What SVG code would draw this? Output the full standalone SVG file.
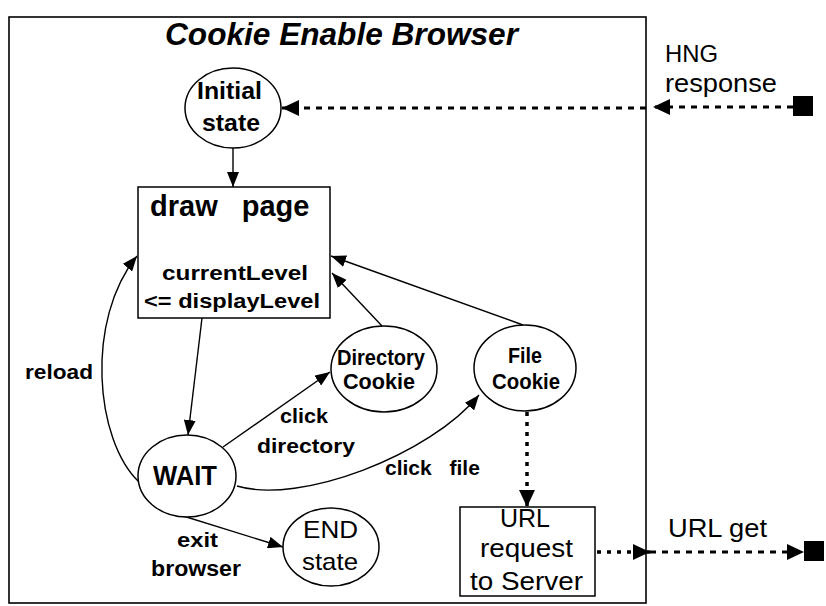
<svg xmlns="http://www.w3.org/2000/svg" width="826" height="606" viewBox="0 0 826 606">
  <style>
    .frame { fill: none; stroke: #000; stroke-width: 1.6; }
    .node { fill: #fff; stroke: #000; stroke-width: 1.5; }
    .edge { fill: none; stroke: #000; stroke-width: 1.4; }
    .dash { fill: none; stroke: #000; stroke-width: 3; stroke-dasharray: 6 6; }
    .dot { fill: none; stroke: #000; stroke-width: 3.5; stroke-dasharray: 4 6; }
    text { font-family: "Liberation Sans", Arial, sans-serif; fill: #000; }
    .b { font-weight: bold; }
    .n { font-weight: normal; }
    .title { font-size: 31px; font-weight: bold; font-style: italic; }
  </style>
  <defs>
    <marker id="arr" markerUnits="userSpaceOnUse" markerWidth="16" markerHeight="12" refX="15" refY="6" orient="auto">
      <path d="M0,0 L15,6 L0,12 z" fill="#000"/>
    </marker>
    <marker id="arrBig" markerUnits="userSpaceOnUse" markerWidth="18" markerHeight="16" refX="17" refY="8" orient="auto">
      <path d="M0,0 L17,8 L0,16 z" fill="#000"/>
    </marker>
  </defs>

  <rect width="826" height="606" fill="#fff"/>

  <!-- browser boundary -->
  <g id="browser">
    <rect class="frame" x="9" y="17" width="637" height="586"/>
    <text class="title" x="165" y="45" textLength="353" lengthAdjust="spacingAndGlyphs">Cookie Enable Browser</text>
  </g>

  <!-- connectors -->
  <g id="connectors">
    <path class="edge" d="M233,148 L233,187" marker-end="url(#arr)"/>
    <path class="edge" d="M202,318 L188,435" marker-end="url(#arr)"/>
    <path class="edge" d="M139,482 C95,440 85,320 137,256" marker-end="url(#arr)"/>
    <path class="edge" d="M223,447 L330,372" marker-end="url(#arr)"/>
    <path class="edge" d="M237,486 C300,505 430,455 479,395" marker-end="url(#arr)"/>
    <path class="edge" d="M180,515 L283,547" marker-end="url(#arr)"/>
    <path class="edge" d="M382,326 L332,273" marker-end="url(#arr)"/>
    <path class="edge" d="M523,325 L331,256" marker-end="url(#arr)"/>

    <path class="dash" d="M793,107 L653,107" marker-end="url(#arrBig)"/>
    <path class="dash" d="M646,108 L282,108" marker-end="url(#arrBig)"/>
    <path class="dot" d="M527,412 L527,507" marker-end="url(#arrBig)"/>
    <path class="dot" d="M597,552 L650,552" marker-end="url(#arrBig)"/>
    <path class="dash" d="M650,552 L804,552" marker-end="url(#arrBig)"/>
  </g>

  <!-- external endpoints -->
  <g id="hng">
    <rect x="793" y="96" width="20" height="20" fill="#000"/>
    <text class="n" x="665" y="62" font-size="24" textLength="53" lengthAdjust="spacingAndGlyphs">HNG</text>
    <text class="n" x="665" y="92" font-size="25" textLength="112" lengthAdjust="spacingAndGlyphs">response</text>
  </g>
  <g id="server">
    <rect x="804" y="541" width="20" height="20" fill="#000"/>
    <text class="n" x="668" y="537" font-size="25" textLength="99" lengthAdjust="spacingAndGlyphs">URL get</text>
  </g>

  <!-- states -->
  <g id="initial-state">
    <ellipse class="node" cx="233" cy="108" rx="48" ry="40"/>
    <text class="b" x="229.5" y="99" font-size="24" text-anchor="middle" textLength="65" lengthAdjust="spacingAndGlyphs">Initial</text>
    <text class="b" x="231" y="131" font-size="24" text-anchor="middle" textLength="58" lengthAdjust="spacingAndGlyphs">state</text>
  </g>

  <g id="draw-page">
    <rect class="node" x="138" y="187" width="192" height="131"/>
    <text class="b" x="150" y="216" font-size="29" word-spacing="16">draw page</text>
    <text class="b" x="235" y="280" font-size="20" text-anchor="middle" textLength="146" lengthAdjust="spacingAndGlyphs">currentLevel</text>
    <text class="b" x="232" y="308" font-size="20" text-anchor="middle" textLength="176" lengthAdjust="spacingAndGlyphs">&lt;= displayLevel</text>
  </g>

  <g id="directory-cookie">
    <ellipse class="node" cx="384" cy="369" rx="53" ry="43"/>
    <text class="b" x="381" y="365" font-size="22" text-anchor="middle" textLength="88" lengthAdjust="spacingAndGlyphs">Directory</text>
    <text class="b" x="379" y="389" font-size="22" text-anchor="middle" textLength="72" lengthAdjust="spacingAndGlyphs">Cookie</text>
  </g>

  <g id="file-cookie">
    <ellipse class="node" cx="525" cy="368" rx="51" ry="43"/>
    <text class="b" x="525" y="363" font-size="22" text-anchor="middle" textLength="34" lengthAdjust="spacingAndGlyphs">File</text>
    <text class="b" x="526" y="389" font-size="22" text-anchor="middle" textLength="68" lengthAdjust="spacingAndGlyphs">Cookie</text>
  </g>

  <g id="wait">
    <ellipse class="node" cx="187" cy="476" rx="49" ry="41"/>
    <text class="b" x="185" y="485" font-size="27" text-anchor="middle" textLength="64" lengthAdjust="spacingAndGlyphs">WAIT</text>
  </g>

  <g id="end-state">
    <ellipse class="node" cx="331" cy="547" rx="48" ry="39"/>
    <text class="n" x="330.5" y="538" font-size="24" text-anchor="middle" textLength="55" lengthAdjust="spacingAndGlyphs">END</text>
    <text class="n" x="330" y="570" font-size="24" text-anchor="middle" textLength="56" lengthAdjust="spacingAndGlyphs">state</text>
  </g>

  <g id="url-request">
    <rect class="node" x="460" y="507" width="135" height="89"/>
    <text class="n" x="525" y="527" font-size="25" text-anchor="middle" textLength="50" lengthAdjust="spacingAndGlyphs">URL</text>
    <text class="n" x="526.5" y="557" font-size="25" text-anchor="middle" textLength="93" lengthAdjust="spacingAndGlyphs">request</text>
    <text class="n" x="526.5" y="590" font-size="25" text-anchor="middle" textLength="113" lengthAdjust="spacingAndGlyphs">to Server</text>
  </g>

  <!-- transition labels -->
  <g id="labels">
    <text class="b" x="25" y="379" font-size="21" textLength="68" lengthAdjust="spacingAndGlyphs">reload</text>
    <text class="b" x="304" y="423" font-size="21" text-anchor="middle" textLength="48" lengthAdjust="spacingAndGlyphs">click</text>
    <text class="b" x="306" y="453" font-size="21" text-anchor="middle" textLength="98" lengthAdjust="spacingAndGlyphs">directory</text>
    <text class="b" x="385" y="475" font-size="21" word-spacing="12">click file</text>
    <text class="b" x="197.5" y="547" font-size="21" text-anchor="middle" textLength="41" lengthAdjust="spacingAndGlyphs">exit</text>
    <text class="b" x="196" y="576" font-size="22" text-anchor="middle" textLength="90" lengthAdjust="spacingAndGlyphs">browser</text>
  </g>
</svg>
